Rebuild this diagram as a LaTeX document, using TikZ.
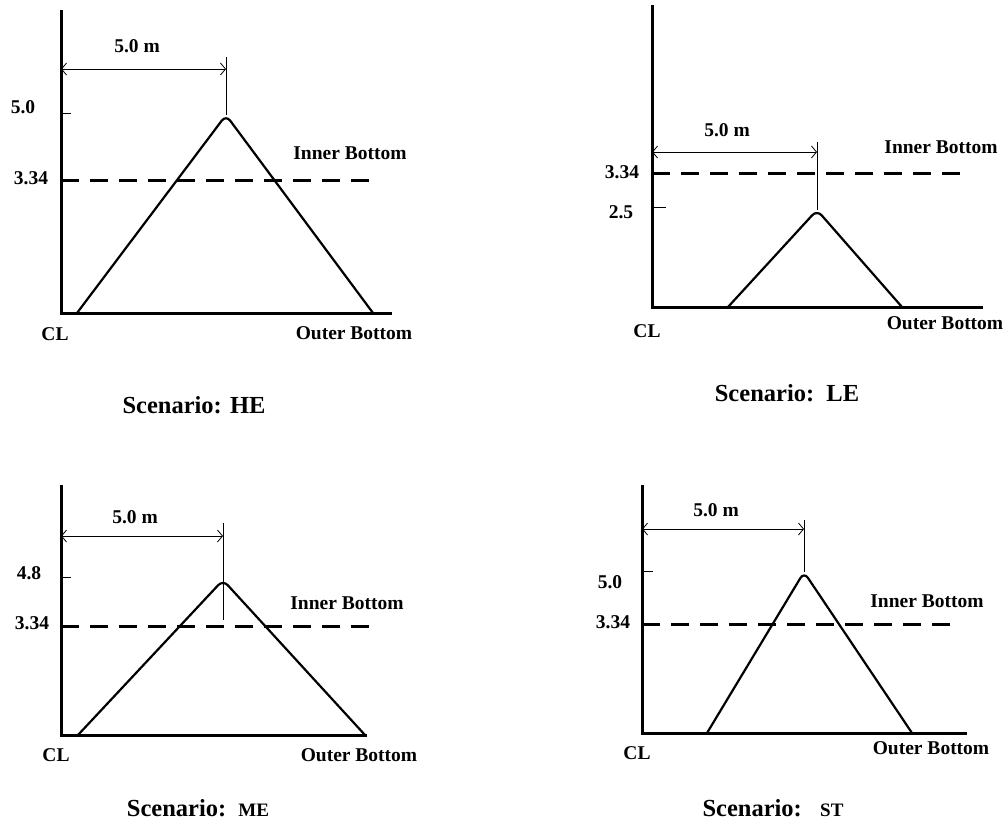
\documentclass[tikz,border=0pt]{standalone}
\usepackage{fontspec}
\setmainfont{Liberation Serif}
\usetikzlibrary{arrows.meta}

\begin{document}
\begin{tikzpicture}[x=1pt, y=-1pt,
  axis/.style={line width=3pt},
  ridge/.style={line width=2.2pt, rounded corners=7pt},
  level/.style={line width=3pt, dash pattern=on 18pt off 11pt},
  tick/.style={line width=1pt},
  dim/.style={line width=0.8pt, {Straight Barb[length=5pt,width=12pt]}-{Straight Barb[length=5pt,width=12pt]}},
  lbl/.style={font=\fontsize{19.5}{22}\selectfont\bfseries, inner sep=0pt},
  title/.style={font=\fontsize{24.5}{28}\selectfont\bfseries, inner sep=0pt}
]
  \useasboundingbox (0,0) rectangle (1008,822);

  % Scenario HE
  \coordinate (he-top) at (61,10);
  \coordinate (he-o) at (61,313);
  \coordinate (he-end) at (392,313);
  \coordinate (he-l) at (77,313);
  \coordinate (he-peak) at (226,115);
  \coordinate (he-r) at (373,313);
  \draw[axis] (he-top) -- (he-o) -- (he-end);
  \draw[ridge] (he-l) -- (he-peak) -- (he-r);
  \draw[level] (61,180) -- (380,180);
  \draw[tick] (61,113) -- (71,113);
  \draw[dim] (61,69) -- (226,69);
  \draw[tick] (226,57) -- (he-peak);
  \node[lbl] (he-w) at (137,46) {5.0 m};
  \node[lbl] (he-h) at (23,107) {5.0};
  \node[lbl] (he-ib) at (31,178) {3.34};
  \node[lbl] (he-inner) at (350,153) {Inner Bottom};
  \node[lbl] (he-cl) at (55,334) {CL};
  \node[lbl] (he-outer) at (354,333) {Outer Bottom};
  \node[title] (he-name) at (194,405) {Scenario: HE};

  % Scenario LE
  \coordinate (le-top) at (652,5);
  \coordinate (le-o) at (652,307);
  \coordinate (le-end) at (983,307);
  \coordinate (le-l) at (728,307);
  \coordinate (le-peak) at (817,210);
  \coordinate (le-r) at (902,307);
  \draw[axis] (le-top) -- (le-o) -- (le-end);
  \draw[ridge] (le-l) -- (le-peak) -- (le-r);
  \draw[level] (652,173) -- (970,173);
  \draw[tick] (652,207) -- (666,207);
  \draw[dim] (652,152) -- (817,152);
  \draw[tick] (817,142) -- (le-peak);
  \node[lbl] (le-w) at (727,130) {5.0 m};
  \node[lbl] (le-ib) at (622,172) {3.34};
  \node[lbl] (le-h) at (621,212) {2.5};
  \node[lbl] (le-inner) at (941,147) {Inner Bottom};
  \node[lbl] (le-cl) at (647,331) {CL};
  \node[lbl] (le-outer) at (945,323) {Outer Bottom};
  \node[title] (le-name) at (787,393) {Scenario:\ \ LE};

  % Scenario ME
  \coordinate (me-top) at (61,485);
  \coordinate (me-o) at (61,735);
  \coordinate (me-end) at (367,735);
  \coordinate (me-l) at (78,735);
  \coordinate (me-peak) at (223,580);
  \coordinate (me-r) at (365,735);
  \draw[axis] (me-top) -- (me-o) -- (me-end);
  \draw[ridge] (me-l) -- (me-peak) -- (me-r);
  \draw[level] (61,626) -- (373,626);
  \draw[tick] (61,577) -- (71,577);
  \draw[dim] (61,536) -- (223,536);
  \draw[tick] (223,523) -- (223,620);
  \node[lbl] (me-w) at (135,517) {5.0 m};
  \node[lbl] (me-h) at (29,573) {4.8};
  \node[lbl] (me-ib) at (32,623) {3.34};
  \node[lbl] (me-inner) at (347,603) {Inner Bottom};
  \node[lbl] (me-cl) at (56,755) {CL};
  \node[lbl] (me-outer) at (359,755) {Outer Bottom};
  \node[title] (me-name) at (198,808) {Scenario:\ \ {\fontsize{19}{21}\selectfont ME}};

  % Scenario ST
  \coordinate (st-top) at (642,485);
  \coordinate (st-o) at (642,733);
  \coordinate (st-end) at (967,733);
  \coordinate (st-l) at (707,733);
  \coordinate (st-peak) at (804,572);
  \coordinate (st-r) at (912,733);
  \draw[axis] (st-top) -- (st-o) -- (st-end);
  \draw[ridge] (st-l) -- (st-peak) -- (st-r);
  \draw[level] (642,624) -- (955,624);
  \draw[tick] (642,571) -- (653,571);
  \draw[dim] (642,529) -- (804,529);
  \draw[tick] (804,520) -- (st-peak);
  \node[lbl] (st-w) at (716,510) {5.0 m};
  \node[lbl] (st-h) at (610,582) {5.0};
  \node[lbl] (st-ib) at (613,622) {3.34};
  \node[lbl] (st-inner) at (927,601) {Inner Bottom};
  \node[lbl] (st-cl) at (637,753) {CL};
  \node[lbl] (st-outer) at (931,748) {Outer Bottom};
  \node[title] (st-name) at (773,808) {Scenario:\ \ \ {\fontsize{19}{21}\selectfont ST}};
\end{tikzpicture}
\end{document}
